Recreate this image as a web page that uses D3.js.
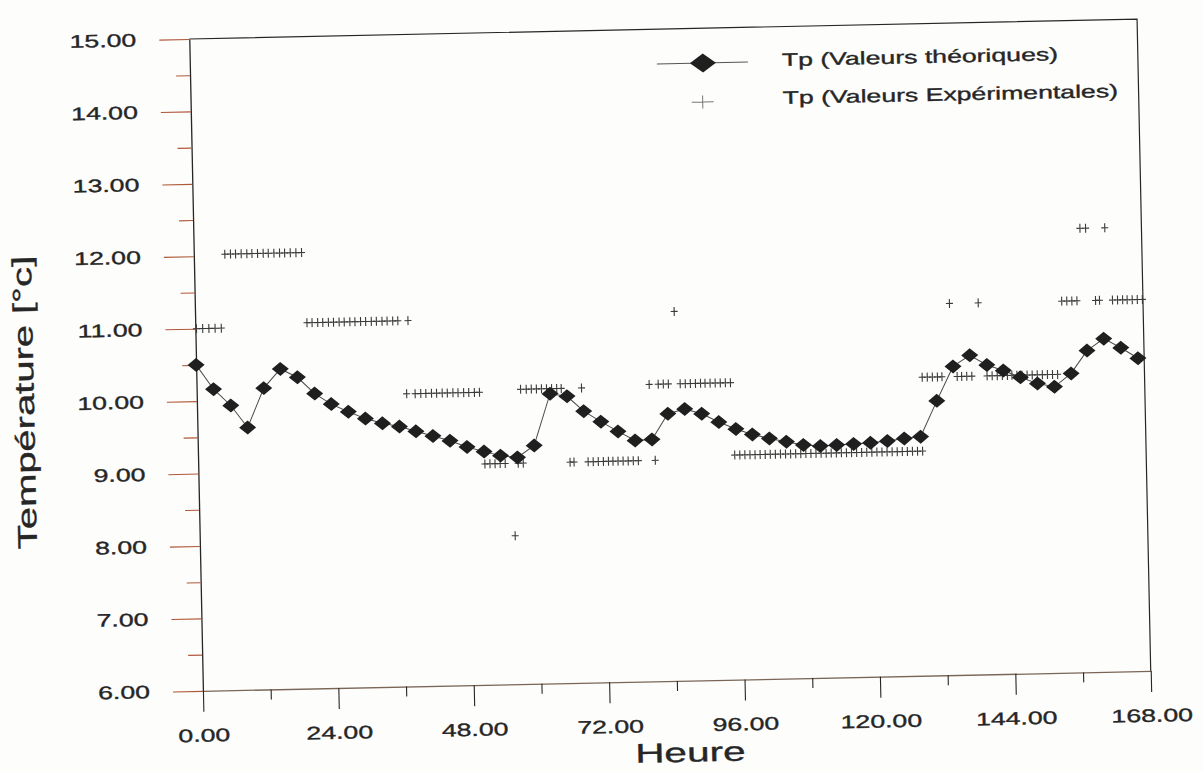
<!DOCTYPE html>
<html>
<head>
<meta charset="utf-8">
<script src="https://cdn.jsdelivr.net/npm/d3@7"></script>
<style>
  body { margin: 0; background: #fff; }
  svg { display: block; background: #fdfdfc; }
  text { font-family: "Liberation Sans", Arial, sans-serif; fill: #262626; stroke: #262626; stroke-width: 0.35px; }
</style>
</head>
<body>
<svg id="chart" width="1203" height="772"></svg>
<script>
// Tp (valeurs theoriques) (about every 3 h)
const thHours = [0, 3.0, 6.0, 8.9, 11.9, 14.9, 17.9, 20.9, 23.8, 26.8, 29.8, 32.8, 35.8, 38.7,
  41.7, 44.7, 47.7, 50.7, 53.6, 56.6, 59.6, 62.6, 65.6, 68.5, 71.5, 74.5, 77.5, 80.5, 83.4,
  86.4, 89.4, 92.4, 95.4, 98.3, 101.3, 104.3, 107.3, 110.3, 113.2, 116.2, 119.2, 122.2, 125.2,
  128.1, 131.1, 134.1, 137.1, 140.1, 143.0, 146.0, 149.0, 152.0, 155.0, 157.9, 160.9, 163.9, 166.9];
const thTemps = [10.50, 10.16, 9.93, 9.62, 10.16, 10.42, 10.30, 10.07, 9.92, 9.81,
  9.71, 9.64, 9.59, 9.52, 9.45, 9.38, 9.29, 9.22, 9.16, 9.13,
  9.29, 10.00, 9.96, 9.75, 9.60, 9.46, 9.33, 9.34, 9.69, 9.75,
  9.68, 9.56, 9.46, 9.38, 9.32, 9.27, 9.22, 9.20, 9.21, 9.22,
  9.23, 9.25, 9.28, 9.30, 9.79, 10.26, 10.41, 10.27, 10.19, 10.09,
  10.00, 9.95, 10.13, 10.44, 10.60, 10.47, 10.32];

// Tp (valeurs experimentales): hours of each mark, one row per plateau
const expHours = [
  [0.2, 1.3, 2.4, 3.5, 4.6],
  [5.5, 6.5, 7.4, 8.4, 9.4, 10.3, 11.3, 12.3, 13.2, 14.2, 15.2, 16.1, 17.1, 18.1, 19.1],
  [19.8, 20.7, 21.7, 22.6, 23.6, 24.5, 25.5, 26.4, 27.4, 28.3, 29.3, 30.2, 31.2, 32.1, 33.1, 34.0, 35.0, 35.9, 37.7],
  [37.2, 38.7, 39.7, 40.6, 41.6, 42.5, 43.5, 44.4, 45.4, 46.3, 47.3, 48.2, 49.2, 50.1],
  [50.8, 51.7, 52.6, 53.5, 54.4, 56.7, 57.6],
  [55.9],
  [57.4, 58.4, 59.3, 60.2, 61.1, 62.0, 62.9, 63.8, 64.6, 68.2],
  [65.9, 66.6, 69.1, 70.0, 70.9, 71.8, 72.7, 73.5, 74.4, 75.3, 76.2, 77.1, 78.0, 81.0],
  [84.9],
  [80.2, 81.8, 82.7, 83.6, 85.7, 86.6, 87.5, 88.4, 89.3, 90.1, 91.0, 91.9, 92.8, 93.7, 94.6],
  [95.1, 96.0, 96.9, 97.8, 98.7, 99.6, 100.5, 101.4, 102.3, 103.2, 104.1, 105.0, 105.9, 106.8,
   107.7, 108.6, 109.5, 110.4, 111.3, 112.2, 113.1, 114.0, 114.9, 115.8, 116.7, 117.6, 118.5,
   119.4, 120.3, 121.2, 122.1, 123.0, 123.9, 124.8, 125.7, 126.6, 127.5, 128.4],
  [128.6, 129.5, 130.4, 131.3, 132.1, 134.8, 135.6, 136.5, 137.4, 140.1, 141.0, 141.9, 142.8,
   143.7, 144.5, 145.4, 146.3, 147.2, 148.1, 149.0, 149.9, 150.8, 151.7, 152.6],
  [133.7, 138.8],
  [153.6, 154.5, 155.4, 156.3, 159.6, 160.3, 162.6, 163.5, 164.4, 165.2, 166.1, 167.0, 167.9],
  [157.1, 158.1, 161.5]
];
const expLevels = [11.00, 12.02, 11.05, 10.04, 9.05, 8.05, 10.07, 9.05, 11.10, 10.10,
  9.10, 10.12, 11.13, 11.13, 12.13];

const xMajor = [0, 24, 48, 72, 96, 120, 144, 168];
const xMinor = [12, 36, 60, 84, 108, 132, 156];
const yMajor = [6, 7, 8, 9, 10, 11, 12, 13, 14, 15];
const yMinor = [6.5, 7.5, 8.5, 9.5, 10.5, 11.5, 12.5, 13.5, 14.5];

const legendLabels = ["Tp (Valeurs théoriques)", "Tp (Valeurs Expérimentales)"];

const svg = d3.select("svg#chart");
const plotLeft = 196, plotRight = 1144, plotTop = 29, plotBottom = 681;
const wide = 1.48;   // the scanned font is very wide
const ink = "#262626", tickRed = "#b0583a";

const x = d3.scaleLinear().domain([0, 168]).range([plotLeft, plotRight]);
const y = d3.scaleLinear().domain([6, 15]).range([plotBottom, plotTop]);

// the scan is slightly tilted
const page = svg.append("g").attr("transform", "rotate(-1.2,669,355)");

// frame: top and right
page.append("path")
    .attr("d", `M${plotLeft},${plotTop}H${plotRight}V${plotBottom}`)
    .attr("fill", "none")
    .attr("stroke", ink)
    .attr("stroke-width", 1.2);

// y axis
const yAxis = page.append("g")
    .attr("transform", `translate(${plotLeft},0)`)
    .call(d3.axisLeft(y).tickValues(yMajor).tickSize(30).tickPadding(23)
      .tickSizeOuter(0).tickFormat(d3.format(".2f")));
page.append("g")
    .attr("transform", `translate(${plotLeft},0)`)
    .call(d3.axisLeft(y).tickValues(yMinor).tickSize(14).tickSizeOuter(0).tickFormat(""))
    .call(g => g.select(".domain").remove())
    .call(g => g.selectAll("line").attr("stroke", tickRed).attr("stroke-width", 1.1));
yAxis.select(".domain").attr("stroke", ink).attr("stroke-width", 1.3);
yAxis.selectAll("line").attr("stroke", tickRed).attr("stroke-width", 1.1);
yAxis.selectAll("text")
    .attr("x", 0)
    .attr("transform", `translate(-53,0) scale(${wide},1)`)
    .style("font-size", "18px")
    .attr("fill", ink);

// x axis
const xAxis = page.append("g")
    .attr("transform", `translate(0,${plotBottom})`)
    .call(d3.axisBottom(x).tickValues(xMajor).tickSize(21).tickSizeOuter(0)
      .tickFormat(d3.format(".2f")));
page.append("g")
    .attr("transform", `translate(0,${plotBottom})`)
    .call(d3.axisBottom(x).tickValues(xMinor).tickSize(10).tickSizeOuter(0).tickFormat(""))
    .call(g => g.select(".domain").remove())
    .call(g => g.selectAll("line").attr("stroke", ink).attr("stroke-width", 1.1));
xAxis.select(".domain").attr("stroke", "#7a6656").attr("stroke-width", 1.3);
xAxis.selectAll("line").attr("stroke", ink).attr("stroke-width", 1.1);
xAxis.selectAll("text")
    .attr("y", 0)
    .attr("transform", `translate(0,38) scale(${wide},1)`)
    .style("font-size", "18px")
    .attr("fill", ink);

// axis titles
page.append("text")
    .attr("transform", `translate(682,762) scale(1.5,1)`)
    .attr("text-anchor", "middle")
    .style("font-size", "27px")
    .text("Heure");
page.append("text")
    .attr("transform", `translate(33,389) rotate(-90) scale(${wide},1)`)
    .attr("text-anchor", "middle")
    .style("font-size", "27px")
    .text("Température [°c]");

// experimental marks
const expPoints = expHours.flatMap((hs, i) => hs.map(h => ({h: h, t: expLevels[i]})));
const plus = "M-3.5,0H3.5M0,-4.5V4.5";
page.append("g")
  .selectAll("path")
  .data(expPoints)
  .join("path")
    .attr("d", plus)
    .attr("transform", d => `translate(${x(d.h)},${y(d.t)})`)
    .attr("fill", "none")
    .attr("stroke", "#3a3a3a")
    .attr("stroke-width", 1.1);

// theoretical curve
const thPoints = thHours.map((h, i) => ({h: h, t: thTemps[i]}));
page.append("path")
    .datum(thPoints)
    .attr("d", d3.line().x(d => x(d.h)).y(d => y(d.t)))
    .attr("fill", "none")
    .attr("stroke", "#4a4a4a")
    .attr("stroke-width", 1);
const diamond = "M0,-7L8.5,0L0,7L-8.5,0Z";
page.append("g")
  .selectAll("path")
  .data(thPoints)
  .join("path")
    .attr("d", diamond)
    .attr("transform", d => `translate(${x(d.h)},${y(d.t)})`)
    .attr("fill", "#1f1f1f");

// legend
const legend = page.append("g");
legend.append("line")
    .attr("x1", 663).attr("x2", 754).attr("y1", 63.7).attr("y2", 63.7)
    .attr("stroke", "#555").attr("stroke-width", 1);
legend.append("path")
    .attr("d", "M0,-9.5L13,0L0,9.5L-13,0Z")
    .attr("transform", "translate(709,63.7)")
    .attr("fill", "#1f1f1f");
legend.append("path")
    .attr("d", "M-11,0H11M0,-6.5V6.5")
    .attr("transform", "translate(708,102.7)")
    .attr("fill", "none")
    .attr("stroke", "#777")
    .attr("stroke-width", 1);
legend.selectAll("text")
  .data(legendLabels)
  .join("text")
    .attr("transform", (d, i) => `translate(788,${68.4 + i * 38}) scale(${wide},1)`)
    .style("font-size", "18px")
    .text(d => d);
</script>
</body>
</html>
